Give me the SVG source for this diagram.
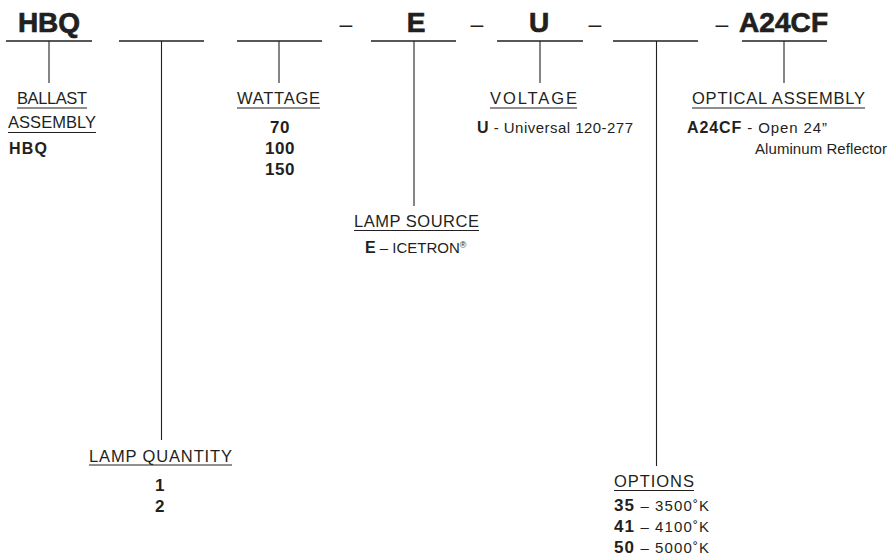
<svg xmlns="http://www.w3.org/2000/svg" width="893" height="556" viewBox="0 0 893 556">
<style>
text{font-family:"Liberation Sans",Arial,sans-serif;fill:#231f20}
.code{font-size:28px;font-weight:bold;stroke:#231f20;stroke-width:0.7}
.dash{font-size:23px;text-anchor:middle}
.hd{font-size:16.5px}
.b{font-weight:bold}
.body{font-size:15px}
.num{font-size:17px;font-weight:bold;text-anchor:middle;letter-spacing:0.5px}
.bar{stroke:#231f20;stroke-width:1.5}
.ln{stroke:#231f20;stroke-width:1.1;fill:none}
.ul{stroke:#231f20;stroke-width:1.1}
</style>
<rect width="893" height="556" fill="#fff"/>
<g id="code">
<text class="code" x="18" y="32" textLength="62">HBQ</text>
<text class="dash" x="346" y="32">–</text>
<text class="code" x="416" y="32" text-anchor="middle">E</text>
<text class="dash" x="477" y="32">–</text>
<text class="code" x="539" y="32" text-anchor="middle">U</text>
<text class="dash" x="595" y="32">–</text>
<text class="dash" x="722" y="32">–</text>
<text class="code" x="739" y="32" textLength="89">A24CF</text>
</g>
<g id="connectors">
<line class="bar" x1="6" y1="41" x2="92" y2="41"/>
<line class="bar" x1="119" y1="41" x2="204" y2="41"/>
<line class="bar" x1="237" y1="41" x2="322" y2="41"/>
<line class="bar" x1="371" y1="41" x2="456" y2="41"/>
<line class="bar" x1="497" y1="41" x2="583" y2="41"/>
<line class="bar" x1="613" y1="41" x2="698" y2="41"/>
<line class="bar" x1="742" y1="41" x2="827" y2="41"/>
<line class="ln" x1="49" y1="41" x2="49" y2="83"/>
<line class="ln" x1="161.5" y1="41" x2="161.5" y2="440"/>
<line class="ln" x1="279" y1="41" x2="279" y2="83"/>
<line class="ln" x1="414" y1="41" x2="414" y2="206"/>
<line class="ln" x1="540" y1="41" x2="540" y2="83"/>
<line class="ln" x1="656.5" y1="41" x2="656.5" y2="466"/>
<line class="ln" x1="784" y1="41" x2="784" y2="83"/>
</g>
<g id="ballast">
<text class="hd" x="17" y="104" textLength="70">BALLAST</text>
<line class="ul" x1="17" y1="108" x2="87" y2="108"/>
<text class="hd" x="8" y="128" textLength="88">ASSEMBLY</text>
<line class="ul" x1="8" y1="132.5" x2="96" y2="132.5"/>
<text class="b" font-size="16" x="9" y="154" textLength="38">HBQ</text>
</g>
<g id="wattage">
<text class="hd" x="237" y="104" textLength="83">WATTAGE</text>
<line class="ul" x1="237" y1="108" x2="320" y2="108"/>
<text class="num" x="280" y="133">70</text>
<text class="num" x="280" y="154">100</text>
<text class="num" x="280" y="175">150</text>
</g>
<g id="lamp-source">
<text class="hd" x="354" y="227" textLength="125">LAMP SOURCE</text>
<line class="ul" x1="354" y1="230.5" x2="479" y2="230.5"/>
<text class="body" x="365" y="253"><tspan class="b" font-size="16">E</tspan> – ICETRON<tspan font-size="9" dy="-5">®</tspan></text>
</g>
<g id="voltage">
<text class="hd" x="490" y="104" textLength="87">VOLTAGE</text>
<line class="ul" x1="490" y1="108" x2="577" y2="108"/>
<text class="body" x="477" y="133" textLength="156"><tspan class="b" font-size="16">U</tspan> - Universal 120-277</text>
</g>
<g id="optical">
<text class="hd" x="692" y="104" textLength="173">OPTICAL ASSEMBLY</text>
<line class="ul" x1="692" y1="108" x2="865" y2="108"/>
<text class="body" x="687" y="133" textLength="140"><tspan class="b" font-size="16">A24CF</tspan> - Open 24”</text>
<text class="body" x="755" y="154" textLength="132">Aluminum Reflector</text>
</g>
<g id="lamp-quantity">
<text class="hd" x="89" y="462" textLength="143">LAMP QUANTITY</text>
<line class="ul" x1="89" y1="465" x2="232" y2="465"/>
<text class="num" x="160" y="491">1</text>
<text class="num" x="160" y="512">2</text>
</g>
<g id="options">
<text class="hd" x="614" y="487" textLength="80">OPTIONS</text>
<line class="ul" x1="614" y1="490.5" x2="694" y2="490.5"/>
<text class="body" x="614" y="511" textLength="95"><tspan class="b" font-size="17">35</tspan> – 3500˚K</text>
<text class="body" x="614" y="532" textLength="95"><tspan class="b" font-size="17">41</tspan> – 4100˚K</text>
<text class="body" x="614" y="553" textLength="95"><tspan class="b" font-size="17">50</tspan> – 5000˚K</text>
</g>
</svg>
